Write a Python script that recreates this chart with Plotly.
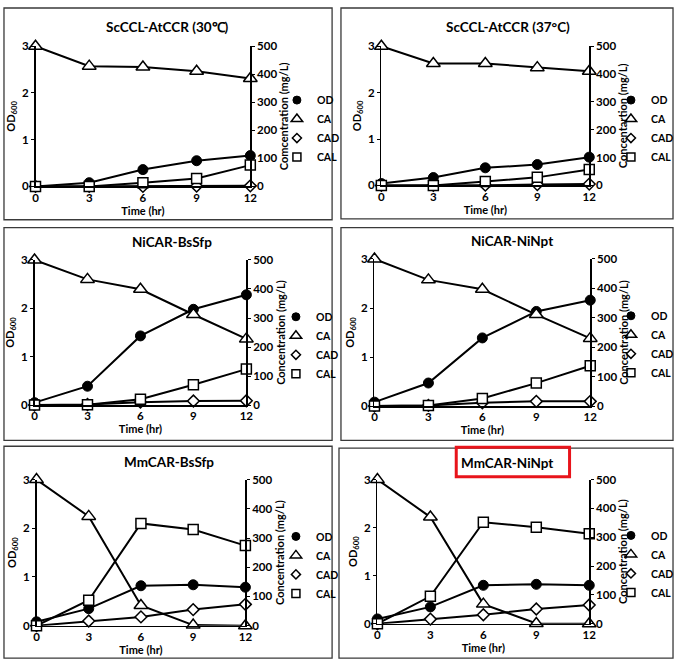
import plotly.graph_objects as go

W, H = 681, 666

# ---------------- data ----------------
time_hr = [0, 3, 6, 9, 12]
panel_titles = ["ScCCL-AtCCR (30℃)", "ScCCL-AtCCR (37°C)", "NiCAR-BsSfp",
                "NiCAR-NiNpt", "MmCAR-BsSfp", "MmCAR-NiNpt"]
conc_axis_titles = ["Comcentration (mg/L)", "Concentartion (mg/L)", "Concentration (mg/L)",
                    "Concentration (mg/L)", "Concentration (mg/L)", "Concentration (mg/L)"]
series_names = ["OD", "CA", "CAD", "CAL"]
od_ticks = [0, 1, 2, 3]
conc_ticks = [0, 100, 200, 300, 400, 500]

od_values = [
    [0.00, 0.08, 0.36, 0.55, 0.66],
    [0.04, 0.17, 0.38, 0.45, 0.61],
    [0.05, 0.39, 1.43, 1.98, 2.28],
    [0.08, 0.47, 1.39, 1.93, 2.16],
    [0.08, 0.35, 0.82, 0.84, 0.79],
    [0.10, 0.35, 0.80, 0.82, 0.80],
]
ca_values = [
    [500, 429, 426, 411, 385],
    [500, 438, 438, 423, 410],
    [500, 433, 399, 312, 228],
    [500, 429, 397, 311, 230],
    [500, 374, 69, 2, 0],
    [500, 370, 68, 1, 0],
]
cad_values = [
    [0, 0, 0, 1, 2],
    [0, 0, 1, 3, 5],
    [0, 2, 10, 14, 15],
    [0, 2, 11, 16, 16],
    [0, 16, 30, 55, 73],
    [0, 16, 31, 51, 65],
]
cal_values = [
    [0, 0, 13, 28, 76],
    [0, 0, 14, 29, 57],
    [0, 1, 20, 70, 124],
    [0, 2, 26, 78, 137],
    [0, 87, 350, 329, 274],
    [0, 95, 352, 335, 312],
]

# ---------------- layout geometry (pixels) ----------------
plot_px = [(33, 251, 40, 183), (384, 595, 40, 182),
           (32, 247, 258, 406), (377, 596, 257, 407),
           (34, 246, 482, 631), (380, 595, 482, 629)]
box_px = [(1, 1, 334, 217), (343, 1, 680, 216),
          (1, 225, 334, 442), (343, 225, 680, 442),
          (1, 448, 334, 664), (341, 450, 680, 664)]
title_px = [(167, 20), (513, 20), (172, 240), (517, 239), (168, 464), (512, 465)]
# centre of the legend block (x of text start, y of block middle)
legend_px = [(315, 124), (654, 124), (314, 345), (654, 344), (314, 569), (654, 568)]
highlight_px = (460, 449, 575, 479)

FONT = "Lato, 'Open Sans', Arial, sans-serif"


def px_x(p):
    return p / W


def px_y(p):
    return 1 - p / H


fig = go.Figure()

marker_styles = {
    "OD": dict(symbol="circle", size=10, color="black", line=dict(color="black", width=1)),
    "CA": dict(symbol="triangle-up", size=12, color="white", line=dict(color="black", width=1.5)),
    "CAD": dict(symbol="diamond", size=9, color="white", line=dict(color="black", width=1.5)),
    "CAL": dict(symbol="square", size=10, color="white", line=dict(color="black", width=1.5)),
}

layout_axes = {}
shapes = []
annotations = []

for i in range(6):
    n = i + 1
    xa = "x" if n == 1 else f"x{n}"
    ya = "y" if n == 1 else f"y{n}"
    yr = f"y{n + 6}"
    leg = "legend" if n == 1 else f"legend{n}"
    series = {"OD": od_values[i], "CA": ca_values[i], "CAD": cad_values[i], "CAL": cal_values[i]}
    for name in series_names:
        fig.add_trace(go.Scatter(
            x=time_hr, y=series[name], name=name, mode="lines+markers",
            line=dict(color="black", width=2), marker=marker_styles[name],
            xaxis=xa, yaxis=ya if name == "OD" else yr, legend=leg,
            showlegend=False, legendgroup=f"{name}{n}",
            cliponaxis=False,
        ))
    # legend keys (marker only) for the same series
    for name in series_names:
        fig.add_trace(go.Scatter(
            x=[None], y=[None], name=name, mode="markers",
            marker=dict(marker_styles[name], size=marker_styles[name]["size"] - 2),
            xaxis=xa, yaxis=ya if name == "OD" else yr, legend=leg,
            legendgroup=f"{name}{n}", showlegend=True,
        ))

    x0, x1, yt, yb = plot_px[i]
    xdom = [px_x(x0), px_x(x1)]
    ydom = [px_y(yb), px_y(yt)]
    tickfont = dict(family=FONT, size=11.5, color="black", weight="bold")
    titlefont = dict(family=FONT, size=11, color="black", weight="bold")
    layout_axes["xaxis" if n == 1 else f"xaxis{n}"] = dict(
        domain=xdom, range=[0, 12], tickvals=time_hr, anchor=ya,
        showline=True, linecolor="black", linewidth=1.5, ticks="",
        showgrid=False, zeroline=False, tickfont=tickfont,
        title=dict(text="Time (hr)", font=titlefont, standoff=2),
    )
    layout_axes["yaxis" if n == 1 else f"yaxis{n}"] = dict(
        domain=ydom, range=[0, 3], tickvals=od_ticks, anchor=xa,
        showline=True, linecolor="black", linewidth=1.5, ticks="outside",
        ticklen=3, tickcolor="black", showgrid=False, zeroline=False,
        tickfont=tickfont,
        title=dict(text="OD<sub>600</sub>", font=titlefont, standoff=4),
    )
    layout_axes[f"yaxis{n + 6}"] = dict(
        domain=ydom, range=[0, 500], tickvals=conc_ticks, anchor=xa,
        overlaying=ya, side="right",
        showline=True, linecolor="black", linewidth=1.5, ticks="outside",
        ticklen=3, tickcolor="black", showgrid=False, zeroline=False,
        tickfont=tickfont,
        title=dict(text=conc_axis_titles[i], font=titlefont, standoff=1),
    )

    lx, ly = legend_px[i]
    layout_axes[leg] = dict(
        x=px_x(lx - 37), y=px_y(ly), xanchor="left", yanchor="middle",
        bgcolor="rgba(0,0,0,0)", borderwidth=0, tracegroupgap=0,
        font=dict(family=FONT, size=10.5, color="black", weight="bold"),
        itemclick=False, itemdoubleclick=False,
    )

    bx0, by0, bx1, by1 = box_px[i]
    shapes.append(dict(type="rect", xref="paper", yref="paper",
                       x0=px_x(bx0), x1=px_x(bx1), y0=px_y(by1), y1=px_y(by0),
                       line=dict(color="#3a3a3a", width=1.3), layer="below"))
    tx, ty = title_px[i]
    annotations.append(dict(text=panel_titles[i], xref="paper", yref="paper",
                            x=px_x(tx), y=px_y(ty), xanchor="center", yanchor="middle",
                            showarrow=False,
                            font=dict(family=FONT, size=13.5, color="black", weight="bold")))

hx0, hy0, hx1, hy1 = highlight_px
shapes.append(dict(type="rect", xref="paper", yref="paper",
                   x0=px_x(hx0), x1=px_x(hx1), y0=px_y(hy1), y1=px_y(hy0),
                   line=dict(color="#e8141b", width=3), layer="above"))

fig.update_layout(
    width=W, height=H,
    margin=dict(l=0, r=0, t=0, b=0),
    paper_bgcolor="white", plot_bgcolor="white",
    font=dict(family=FONT, color="black"),
    shapes=shapes, annotations=annotations,
    hovermode=False,
    **layout_axes,
)

fig.write_html("out.html", config={"displayModeBar": False, "staticPlot": True},
               post_script="document.body.style.margin='0px';")
